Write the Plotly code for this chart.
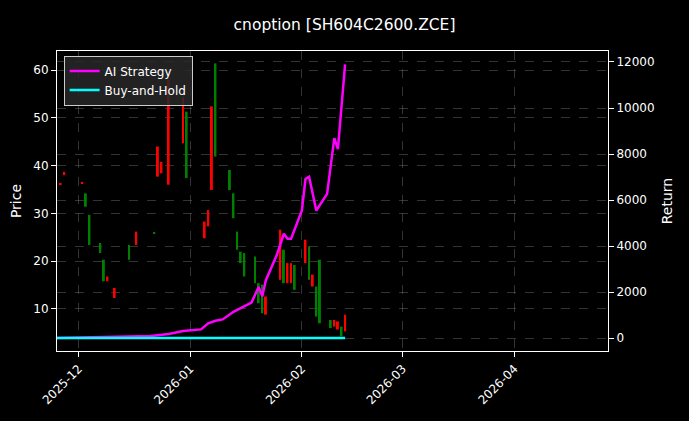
import plotly.graph_objects as go

candle_dates = ["2025-11-26","2025-11-27","2025-12-02","2025-12-03","2025-12-04","2025-12-07","2025-12-08","2025-12-09","2025-12-11","2025-12-15","2025-12-17","2025-12-22","2025-12-23","2025-12-24","2025-12-26","2025-12-30","2025-12-31","2026-01-05","2026-01-06","2026-01-07","2026-01-08","2026-01-12","2026-01-13","2026-01-14","2026-01-15","2026-01-16","2026-01-19","2026-01-20","2026-01-21","2026-01-22","2026-01-26","2026-01-27","2026-01-28","2026-01-29","2026-01-30","2026-02-02","2026-02-03","2026-02-04","2026-02-05","2026-02-06","2026-02-09","2026-02-10","2026-02-11","2026-02-12","2026-02-13"]
body_hi = [36.3,38.7,36.6,34.2,29.7,23.8,20.3,16.8,14.4,23.4,26.2,26.1,44.0,40.8,58.0,54.4,51.3,28.3,30.7,52.4,61.4,39.1,34.2,26.2,22.0,21.7,21.0,15.4,15.1,12.6,26.6,22.4,19.6,19.6,19.2,24.5,23.1,17.2,14.7,20.3,7.7,7.7,7.4,6.3,8.8]
body_lo = [36.0,38.0,36.3,31.4,23.4,21.7,15.8,15.8,12.3,20.3,23.4,25.9,37.7,38.4,36.0,44.7,37.4,24.8,27.3,34.9,41.9,34.9,29.0,22.4,19.6,16.8,15.4,11.2,9.1,8.8,16.1,15.4,15.4,15.4,14.0,19.6,16.1,14.7,8.4,7.0,6.0,6.3,5.7,4.3,5.3]
is_up = [1,1,1,0,0,0,0,1,1,0,1,0,1,1,1,1,0,1,1,1,0,0,0,0,0,0,0,0,0,1,1,0,1,1,0,1,0,1,0,0,0,1,1,0,1]

ai_dates = ["2025-11-24","2025-12-21","2025-12-26","2025-12-30","2026-01-04","2026-01-06","2026-01-08","2026-01-10","2026-01-13","2026-01-15","2026-01-18","2026-01-20","2026-01-21","2026-01-22","2026-01-25","2026-01-27","2026-01-28","2026-01-29","2026-02-01","2026-02-02","2026-02-03","2026-02-05","2026-02-08","2026-02-10","2026-02-11","2026-02-13"]
ai_vals = [0,87,173,303,375,635,750,808,1140,1313,1544,2222,1818,2511,3594,4532,4316,4316,5543,6913,7014,5543,6265,8689,8213,11893]

bh_dates = ["2025-11-24","2026-02-13"]
bh_vals = [0,0]

heights = [hi - lo for hi, lo in zip(body_hi, body_lo)]
colors = ["red" if u else "green" for u in is_up]
DAY_MS = 86400000

fig = go.Figure()
fig.add_trace(go.Bar(x=candle_dates, y=heights, base=body_lo, marker=dict(color=colors, line=dict(width=0)),
    width=0.55 * DAY_MS, showlegend=False, yaxis="y"))
fig.add_trace(go.Scatter(x=ai_dates, y=ai_vals, mode="lines", name="AI Strategy",
    line=dict(color="#ff00ff", width=2.5), yaxis="y2"))
fig.add_trace(go.Scatter(x=bh_dates, y=bh_vals, mode="lines", name="Buy-and-Hold",
    line=dict(color="#00ffff", width=2.5), yaxis="y2"))

grid = "rgba(128,128,128,0.4)"
fig.update_layout(
    width=689, height=421, paper_bgcolor="black", plot_bgcolor="black",
    font=dict(family="DejaVu Sans", color="white", size=12),
    margin=dict(l=57, r=81, t=51, b=70),
    title=dict(text="cnoption [SH604C2600.ZCE]", x=0.5, xanchor="center", y=0.955, font=dict(size=15.5)),
    xaxis=dict(type="date", range=["2025-11-25","2026-04-27"],
        tickvals=["2025-12-01","2026-01-01","2026-02-01","2026-03-01","2026-04-01"],
        ticktext=["2025-12","2026-01","2026-02","2026-03","2026-04"], tickangle=-45, automargin=False,
        showgrid=True, gridcolor=grid, griddash="dash", gridwidth=0.5,
        showline=True, linecolor="white", mirror=True, ticks="outside", tickcolor="white", zeroline=False),
    yaxis=dict(title=dict(text="Price", standoff=8), range=[1.2, 64.0], tickvals=[10,20,30,40,50,60],
        automargin=False, showgrid=True, gridcolor=grid, griddash="dash", gridwidth=0.5,
        showline=True, linecolor="white", ticks="outside", tickcolor="white", zeroline=False),
    yaxis2=dict(title=dict(text="Return", standoff=8), overlaying="y", side="right", range=[-565, 12478],
        tickvals=[0,2000,4000,6000,8000,10000,12000], ticktext=["0","2000","4000","6000","8000","10000","12000"],
        automargin=False, showgrid=True, gridcolor=grid, griddash="dash", gridwidth=0.5,
        showline=True, linecolor="white", ticks="outside", tickcolor="white", zeroline=False),
    legend=dict(x=0.012, y=0.985, xanchor="left", yanchor="top", bgcolor="rgba(40,40,40,0.85)",
        bordercolor="#cccccc", borderwidth=1, font=dict(size=12)),
)
fig.write_html("out.html", config={"displayModeBar": False},
    post_script="document.body.style.margin='0';document.body.style.background='black';")
